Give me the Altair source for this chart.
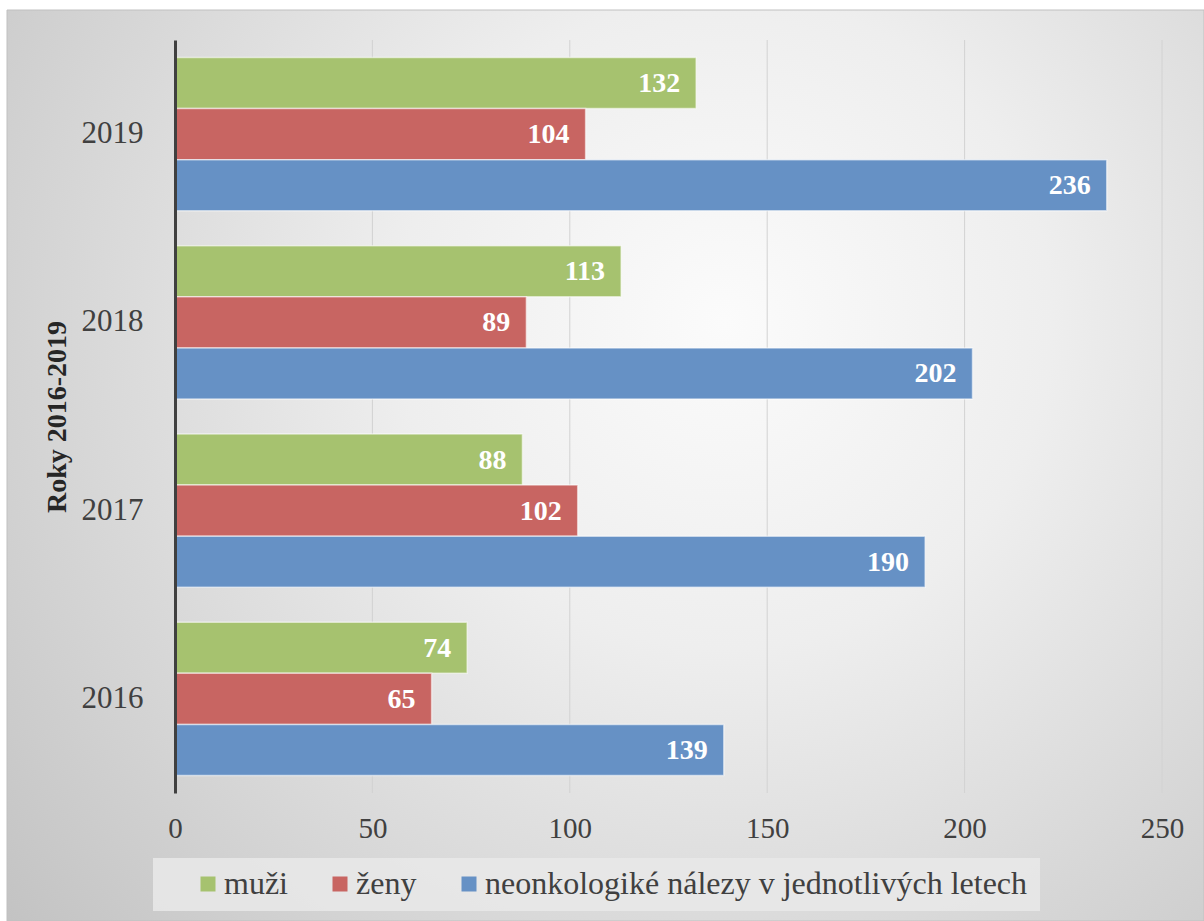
import altair as alt
import pandas as pd

years = ["2016", "2017", "2018", "2019"]
series = ["muži", "ženy", "neonkologiké nálezy v jednotlivých letech"]
muzi = [74, 88, 113, 132]
zeny = [65, 102, 89, 104]
nalezy = [139, 190, 202, 236]
colors = ["#A6C26F", "#C86562", "#6691C5"]
x_ticks = [0, 50, 100, 150, 200, 250]

rows = []
for i, y in enumerate(years):
    for s, vals in zip(series, [muzi, zeny, nalezy]):
        rows.append({"rok": y, "serie": s, "hodnota": vals[i]})
df = pd.DataFrame(rows)

W, H = 987, 753
FONT = "Liberation Serif"

xscale = alt.Scale(domain=[0, 250], nice=False, zero=True)
yscale = alt.Scale(paddingInner=0.186, paddingOuter=0.093)
year_order = list(reversed(years))

xaxis = alt.Axis(
    values=x_ticks, title=None, domain=False, ticks=False, grid=False,
    labelFont=FONT, labelFontSize=29, labelColor="#404040",
    labelPadding=21, labelFlush=False, zindex=1,
)

bg = alt.Chart(pd.DataFrame({"bg": [0]})).mark_rect(
    fill={
        "gradient": "radial",
        "stops": [
            {"offset": 0, "color": "#fbfbfb"},
            {"offset": 0.35, "color": "#eeeeee"},
            {"offset": 1, "color": "#c3c3c3"},
        ],
        "x1": 0.6, "y1": 0.38, "r1": 0,
        "x2": 0.6, "y2": 0.38, "r2": 0.78,
    },
    stroke="#c0c0c0",
    strokeWidth=1,
).encode(
    x=alt.value(-168), x2=alt.value(1029), y=alt.value(-30), y2=alt.value(881)
)

legend_box = alt.Chart(pd.DataFrame({"lb": [0]})).mark_rect(
    fill="#e9e9e9", opacity=0.85
).encode(
    x=alt.value(-22), x2=alt.value(865), y=alt.value(818), y2=alt.value(871)
)

grid = alt.Chart(pd.DataFrame({"g": x_ticks[1:]})).mark_rule(
    color="#d2d2d2", strokeWidth=1
).encode(
    x=alt.X("g:Q", scale=xscale, axis=xaxis),
    y=alt.value(0),
    y2=alt.value(H),
)

base = alt.Chart(df)

bars = base.mark_bar(stroke="#ffffff", strokeOpacity=0.55, strokeWidth=1.5).encode(
    x=alt.X("hodnota:Q", scale=xscale, axis=xaxis),
    y=alt.Y(
        "rok:N",
        sort=year_order,
        scale=yscale,
        axis=alt.Axis(
            title="Roky 2016-2019", domain=True, domainColor="#404040",
            domainWidth=3, ticks=False, grid=False,
            labelFont=FONT, labelFontSize=31, labelColor="#404040",
            labelPadding=32, titleFont=FONT, titleFontSize=28,
            titleFontWeight="bold", titleColor="#262626", titlePadding=10,
            zindex=1,
        ),
    ),
    yOffset=alt.YOffset("serie:N", sort=series, scale=alt.Scale(paddingInner=0, paddingOuter=0)),
    color=alt.Color(
        "serie:N",
        sort=series,
        scale=alt.Scale(domain=series, range=colors),
        legend=alt.Legend(
            title=None, orient="none", direction="horizontal",
            legendX=17, legendY=828,
            symbolType="square", symbolSize=225, symbolStrokeWidth=0,
            symbolOpacity=1,
            labelFont=FONT, labelFontSize=32, labelColor="#404040",
            labelLimit=1000, labelOffset=0, columnPadding=36,
        ),
    ),
)

labels = base.mark_text(
    align="right", baseline="middle", dx=-16, dy=1,
    font=FONT, fontSize=28, fontWeight="bold", color="#ffffff",
).encode(
    x=alt.X("hodnota:Q", scale=xscale, axis=xaxis),
    y=alt.Y("rok:N", sort=year_order, scale=yscale),
    yOffset=alt.YOffset("serie:N", sort=series, scale=alt.Scale(paddingInner=0, paddingOuter=0)),
    text=alt.Text("hodnota:Q"),
)

chart = alt.layer(bg, legend_box, grid, bars, labels).properties(
    width=W,
    height=H,
    autosize=alt.AutoSizeParams(type="none"),
    padding={"left": 175, "top": 40, "right": 42, "bottom": 128},
    background="#ffffff",
).configure_view(stroke=None).configure_legend(
    labelFont=FONT, labelFontSize=32, labelColor="#404040", labelLimit=1000
).configure(font=FONT)

chart.save("out.html", embed_options={"renderer": "svg", "actions": False})
